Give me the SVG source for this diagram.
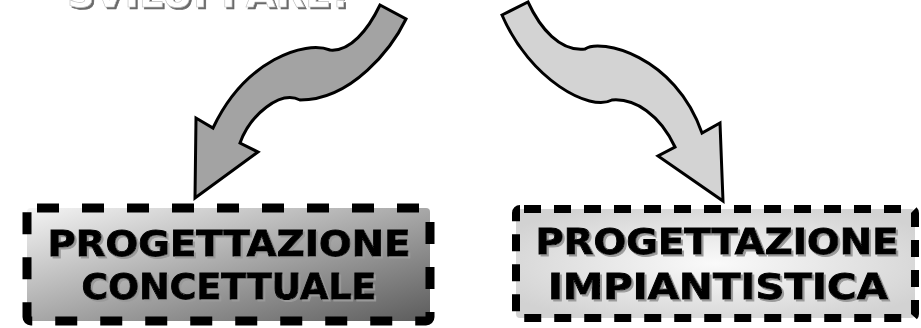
<svg xmlns="http://www.w3.org/2000/svg" width="921" height="328" viewBox="0 0 921 328">
  <defs>
    <linearGradient id="gLeft" x1="0" y1="0" x2="1" y2="1">
      <stop offset="0" stop-color="#f4f4f4"/>
      <stop offset="0.5" stop-color="#a8a8a8"/>
      <stop offset="1" stop-color="#5c5c5c"/>
    </linearGradient>
    <radialGradient id="gRight" cx="0.5" cy="0.5" r="0.6">
      <stop offset="0" stop-color="#fafafa"/>
      <stop offset="1" stop-color="#d2d2d2"/>
    </radialGradient>
    <filter id="shadow" x="-5%" y="-20%" width="110%" height="140%">
      <feOffset in="SourceAlpha" dx="2" dy="2" result="off"/>
      <feFlood flood-color="#9a9a9a"/>
      <feComposite in2="off" operator="in" result="sh"/>
      <feMerge><feMergeNode in="sh"/><feMergeNode in="SourceGraphic"/></feMerge>
    </filter>
    <filter id="shadowDark" x="-5%" y="-50%" width="110%" height="200%">
      <feOffset in="SourceAlpha" dx="2" dy="2" result="off"/>
      <feFlood flood-color="#6a6a6a"/>
      <feComposite in2="off" operator="in" result="sh"/>
      <feMerge><feMergeNode in="sh"/><feMergeNode in="SourceGraphic"/></feMerge>
    </filter>
    <style>
      .lbl { font-family: "DejaVu Sans", Verdana, sans-serif; font-weight: bold; font-size: 36px; text-anchor: middle; fill: #000; stroke: #000; stroke-width: 0.9; filter: url(#shadow); }
      .arrow { stroke: #000; stroke-width: 3; stroke-linejoin: miter; }
      .frame { fill: none; stroke: #000; }
    </style>
  </defs>

  <g id="title">
    <text x="208" y="7" textLength="282" lengthAdjust="spacingAndGlyphs" font-family="DejaVu Sans, Verdana, sans-serif" font-weight="bold" font-size="38" text-anchor="middle" fill="#ffffff" stroke="#bdbdbd" stroke-width="0.6" filter="url(#shadowDark)">SVILUPPARE!</text>
  </g>

  <g id="connectors">
    <path id="arrow-left" class="arrow" fill="#a3a3a3"
      d="M 380,5 L 406,19 C 392,48 352,100 300,100 C 280,90 250,115 240,143 L 258,152 L 195,198 L 196,118 L 213,128 C 245,60 305,40 330,50 C 350,52 368,30 380,5 Z"/>
    <path id="arrow-right" class="arrow" fill="#d3d3d3"
      d="M 502,15 L 528,2 C 540,28 560,52 585,49 C 600,38 675,55 702,133 L 720,123 L 723,201 L 658,156 L 675,147 C 660,115 635,98 612,100 C 590,112 530,80 502,15 Z"/>
  </g>

  <g id="node-concettuale">
    <rect x="27" y="208" width="403" height="113" rx="4" fill="url(#gLeft)"/>
    <rect class="frame" x="27" y="208" width="403" height="113" rx="4" stroke-width="9" stroke-dasharray="22 23" stroke-dashoffset="-6"/>
    <text class="lbl" x="229" y="256" textLength="363" lengthAdjust="spacingAndGlyphs">PROGETTAZIONE</text>
    <text class="lbl" x="229" y="299" textLength="295" lengthAdjust="spacingAndGlyphs">CONCETTUALE</text>
  </g>

  <g id="node-impiantistica">
    <rect x="516" y="209" width="399" height="109" rx="4" fill="url(#gRight)"/>
    <rect class="frame" x="516" y="209" width="399" height="109" rx="4" stroke-width="8" stroke-dasharray="17 13" stroke-dashoffset="-4"/>
    <text class="lbl" x="717" y="254" textLength="363" lengthAdjust="spacingAndGlyphs">PROGETTAZIONE</text>
    <text class="lbl" x="718" y="299" textLength="340" lengthAdjust="spacingAndGlyphs">IMPIANTISTICA</text>
  </g>
</svg>
